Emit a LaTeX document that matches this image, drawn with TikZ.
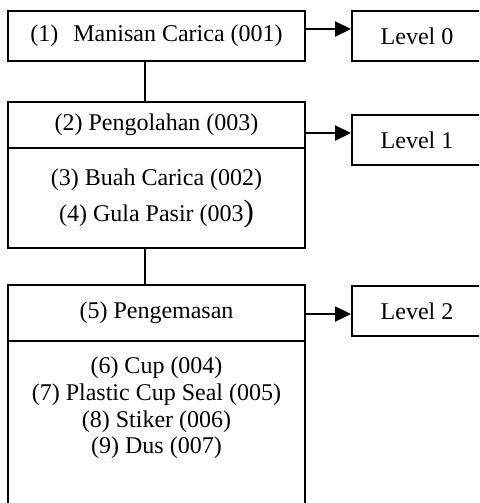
\documentclass[tikz,border=0pt]{standalone}
\usepackage{fontspec}
\setmainfont{Liberation Serif}
\usetikzlibrary{arrows.meta}
\begin{document}
\begin{tikzpicture}[x=1pt,y=-1pt,
  box/.style={draw=black, line width=1.9pt, rectangle, inner sep=0pt, font=\fontsize{24}{26.7}\selectfont, align=center},
  lvlbox/.style={box, minimum width=130pt, minimum height=50pt},
  conn/.style={line width=1.9pt},
  arr/.style={line width=1.9pt, -{Triangle[length=16pt,width=15pt]}},
  txt/.style={inner sep=0pt, align=center}]
\useasboundingbox (0,0) rectangle (479,503);
\clip (0,0) rectangle (479,503);
% main boxes
\node[box, minimum width=297pt, minimum height=50pt] (box1) at (156.5,36) {(1)\hspace{15pt}Manisan Carica (001)};
\node[box, minimum width=297pt, minimum height=46pt] (box2head) at (156.5,125) {(2) Pengolahan (003)};
\node[box, minimum width=297pt, minimum height=100pt, font=\fontsize{24}{36}\selectfont] (box2body) at (156.5,198) {(3) Buah Carica (002)\\(4) Gula Pasir (003{\fontsize{31}{31}\selectfont )}};
\node[box, minimum width=297pt, minimum height=56pt] (box3head) at (156.5,313) {(5) Pengemasan};
\node[box, minimum width=297pt, minimum height=180pt] (box3body) at (156.5,431) {};
\node[txt, font=\fontsize{24}{26.7}\selectfont] (box3items) at (156.5,408) {(6) Cup (004)\\(7) Plastic Cup Seal (005)\\(8) Stiker (006)\\(9) Dus (007)};
% level boxes
\node[lvlbox] (lvl0) at (417,36) {Level 0};
\node[lvlbox] (lvl1) at (417,140) {Level 1};
\node[lvlbox] (lvl2) at (417,311) {Level 2};
% connector column and arrow rows
\coordinate (cx) at (145,0);
\coordinate (a0) at (0,29);
\coordinate (a1) at (0,133);
\coordinate (a2) at (0,314);
% connectors
\draw[conn] (box1.south -| cx) -- (box2head.north -| cx);
\draw[conn] (box2body.south -| cx) -- (box3head.north -| cx);
\draw[arr] (box1.east |- a0) -- (lvl0.west |- a0);
\draw[arr] (box2head.east |- a1) -- (lvl1.west |- a1);
\draw[arr] (box3head.east |- a2) -- (lvl2.west |- a2);
\end{tikzpicture}
\end{document}
